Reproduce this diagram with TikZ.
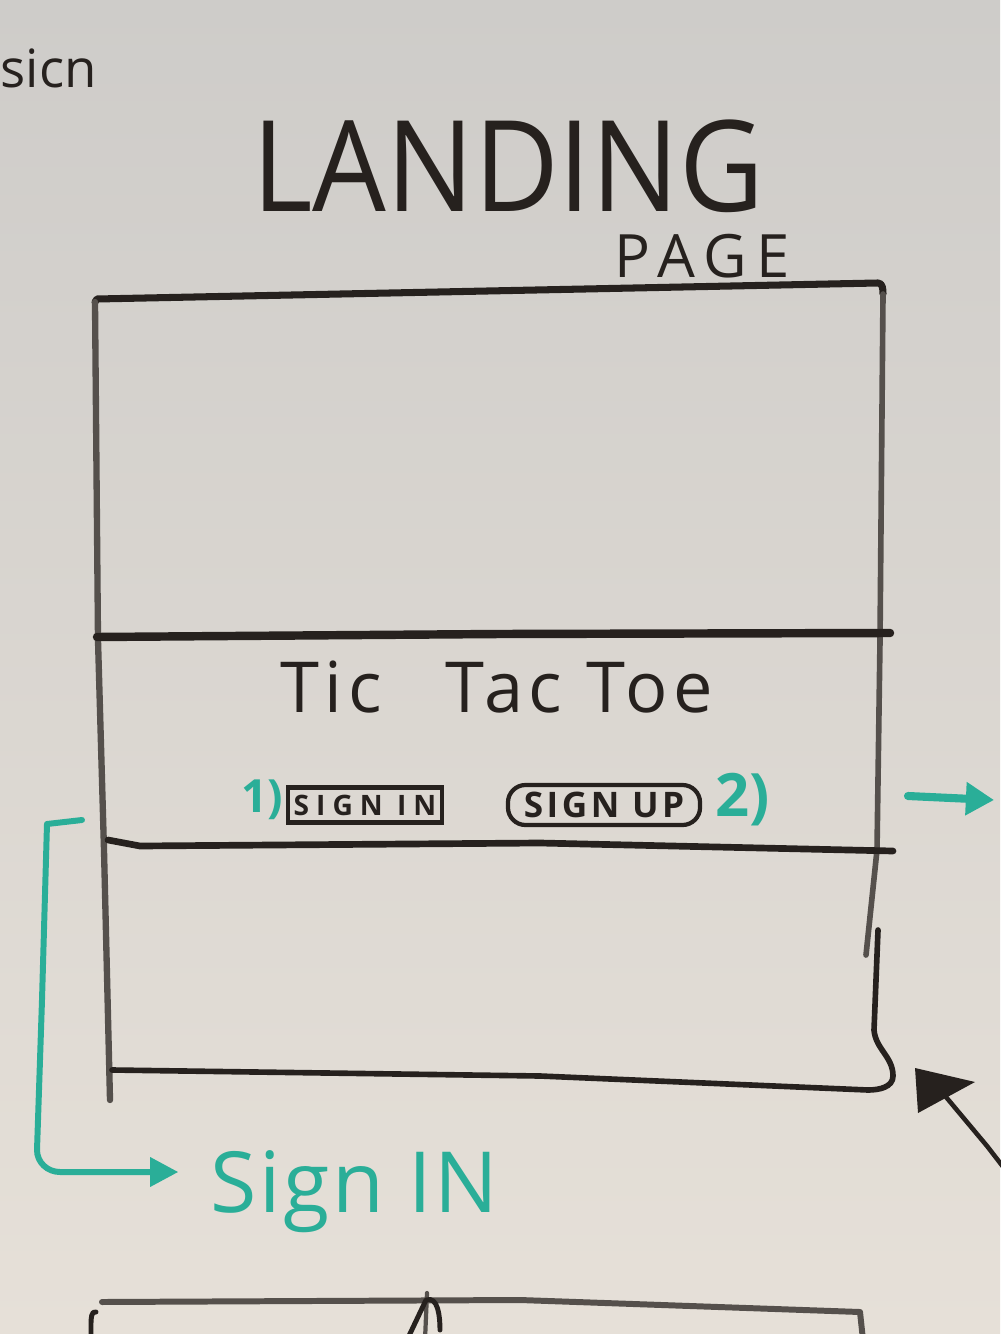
\documentclass[tikz,border=0pt]{standalone}
\usepackage{fontspec}
\setmainfont{Open Sans}
\usetikzlibrary{arrows.meta}

\definecolor{boardtop}{RGB}{206,204,201}
\definecolor{boardbot}{RGB}{230,224,216}
\definecolor{inkc}{RGB}{38,33,30}
\definecolor{wornink}{RGB}{85,80,76}
\definecolor{markerteal}{RGB}{42,174,152}

\tikzset{
  pen/.style={draw=inkc, line width=1.9pt, line cap=round, line join=round},
  worn/.style={draw=wornink, line width=1.6pt, line cap=round, line join=round},
  tealpen/.style={draw=markerteal, line width=1.7pt, line cap=round, line join=round},
  lbl/.style={inner sep=0pt, text=inkc},
  teallbl/.style={inner sep=0pt, text=markerteal},
  btn/.style={draw=inkc, line width=1.2pt, inner sep=0pt, text=inkc,
    font=\fontsize{8}{8}\selectfont\bfseries\addfontfeatures{LetterSpace=25}},
}

\begin{document}
\begin{tikzpicture}[x=0.01cm, y=-0.01cm]
  % whiteboard
  \useasboundingbox (0,0) rectangle (1000,1334);
  \shade[top color=boardtop, bottom color=boardbot] (0,0) rectangle (1000,1334);

  % headings
  \node[lbl, anchor=base west] (corner) at (0,88)
    {\fontsize{15}{15}\selectfont sicn};
  \node[lbl, anchor=base] (title) at (508,212)
    {\fontsize{36}{36}\selectfont\scalebox{0.92}[1]{LANDING}};
  \node[lbl, anchor=base] (sub) at (702,278)
    {\fontsize{17}{17}\selectfont\addfontfeatures{LetterSpace=16}PAGE};

  % page frame
  \draw[pen, line width=2pt] (95,302) -- (97,299) -- (878,283) to[out=0,in=90] (883,294);
  \draw[worn] (883,294) -- (880,640) -- (877,850) -- (866,955);
  \draw[worn, line width=1.8pt] (95,302) -- (98,640) -- (104,850) -- (110,1100);
  \draw[pen, line width=2.4pt] (97,637) -- (500,634) -- (890,633);
  \draw[pen] (108,840) -- (140,846) -- (540,843) -- (893,851);
  \draw[pen, line width=1.6pt] (112,1070) -- (540,1076) -- (868,1090)
    to[out=0,in=-90] (893,1076) to[out=90,in=-85] (874,1030) -- (878,930);

  % hero section
  \node[lbl, anchor=base] (game) at (497,712)
    {\fontsize{20}{20}\selectfont\addfontfeatures{LetterSpace=8}Tic\hspace{0.9em}Tac Toe};
  \node[btn, minimum width=1.54cm, minimum height=0.35cm] (signinbtn) at (365,805) {SIGN IN};
  \node[btn, minimum width=1.92cm, minimum height=0.40cm, rounded corners=5pt,
        font=\fontsize{10}{10}\selectfont\bfseries\addfontfeatures{LetterSpace=10}]
        (signupbtn) at (604,805) {SIGN UP};
  \node[teallbl, anchor=east, font=\fontsize{13}{13}\selectfont\bfseries] (one) at (284,800) {1)};
  \node[teallbl, anchor=west, font=\fontsize{17}{17}\selectfont\bfseries] (two) at (715,800) {2)};

  % flow to sign up
  \coordinate (upfrom) at (908,796);
  \coordinate (upto) at (994,800);
  \draw[tealpen, line width=2.3pt, -{Triangle[length=8pt, width=9pt]}] (upfrom) -- (upto);

  % flow to sign in
  \node[teallbl, anchor=base west, font=\fontsize{24}{24}\selectfont\addfontfeatures{LetterSpace=3}]
    (signin) at (210,1212) {Sign IN};
  \coordinate (infrom) at (82,820);
  \coordinate (inbend) at (38,1172);
  \draw[tealpen, -{Triangle[length=8pt, width=8pt]}, shorten >=9pt]
    (infrom) -- (47,824) -- (42,1000) -- (37,1150) to[out=-90,in=180] (60,1172)
    -- (inbend -| signin.west);

  % pointer into the footer
  \coordinate (ptrbase) at (946,1097);
  \coordinate (ptrtail) at (1004,1168);
  \draw[pen, line width=1.3pt] (ptrtail) -- (987,1146) -- (ptrbase);
  \fill[inkc] (915,1068) -- (975,1082) -- (918,1113) -- cycle;

  % next screen
  \draw[worn, line width=1.7pt] (102,1302) -- (520,1300) -- (860,1312) -- (863,1340);
  \draw[pen, line width=1.4pt] (96,1312) to[out=160,in=90] (91,1324) -- (91,1340);
  \coordinate (nextup) at (427,1293);
  \draw[worn, line width=1.2pt] (425,1340) -- (nextup);
  \draw[pen, line width=1.4pt] (407,1340) -- (426,1300) to[out=20,in=90] (440,1330);
\end{tikzpicture}
\end{document}
